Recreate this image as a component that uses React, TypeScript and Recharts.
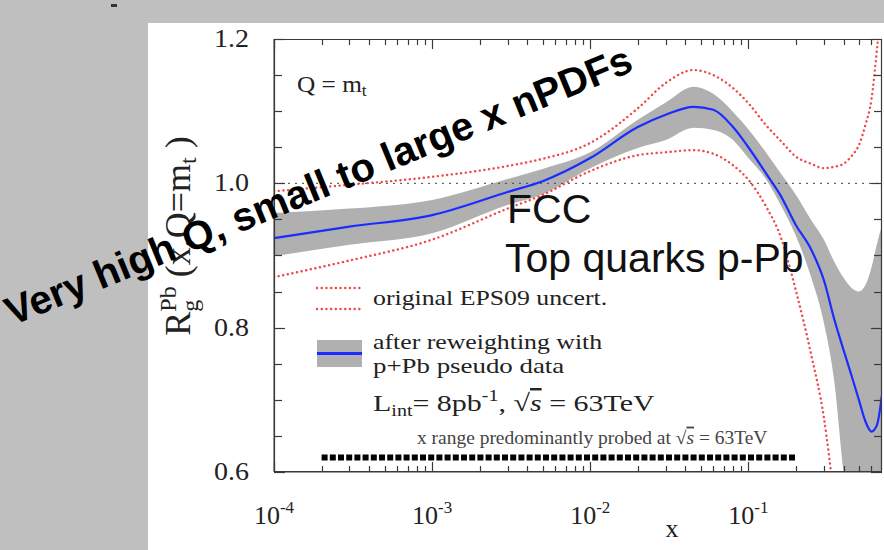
import { ComposedChart, Area, Line, XAxis, YAxis, ReferenceLine } from "recharts";

const xValues = [1e-4, 3e-4, 1e-3, 3e-3, 5e-3, 1e-2, 2e-2, 3e-2, 4.5e-2, 6e-2, 8e-2, 0.1, 0.13, 0.16, 0.2, 0.25, 0.3, 0.35, 0.4, 0.45, 0.5, 0.55, 0.6, 0.65, 0.7];

// after reweighting (blue central line + grey band)
const reweighted = [0.924, 0.94, 0.956, 0.988, 1.003, 1.035, 1.078, 1.095, 1.106, 1.102, 1.078, 1.05, 1.013, 0.983, 0.942, 0.908, 0.866, 0.811, 0.769, 0.733, 0.7, 0.67, 0.656, 0.665, 0.707];
const reweightedHigh = [0.959, 0.965, 0.977, 1.006, 1.02, 1.043, 1.088, 1.112, 1.134, 1.124, 1.099, 1.075, 1.042, 1.014, 0.984, 0.949, 0.922, 0.891, 0.869, 0.855, 0.85, 0.859, 0.883, 0.916, 0.942];
const reweightedLow = [0.899, 0.915, 0.931, 0.97, 0.985, 1.021, 1.049, 1.06, 1.077, 1.074, 1.06, 1.035, 1.005, 0.97, 0.927, 0.869, 0.807, 0.724, 0.599, 0.52, 0.46, 0.42, 0.4, 0.4, 0.4];

// original EPS09 uncertainty (red dotted)
const eps09High = [0.989, 0.998, 1.009, 1.024, 1.034, 1.056, 1.104, 1.139, 1.157, 1.15, 1.132, 1.111, 1.08, 1.059, 1.037, 1.027, 1.021, 1.023, 1.027, 1.038, 1.053, 1.081, 1.116, 1.185, 1.26];
const eps09Low = [0.87, 0.893, 0.922, 0.965, 0.984, 1.017, 1.039, 1.043, 1.046, 1.041, 1.025, 1.005, 0.967, 0.926, 0.851, 0.762, 0.676, 0.56, null, null, null, null, null, null, null];

// x range predominantly probed
const probeFrom = 2e-4;
const probeTo = 0.2;
const probeLevel = 0.62;

const X_MIN = 1e-4;
const X_MAX = 0.7;
const Y_MIN = 0.6;
const Y_MAX = 1.2;

const yTicks = [0.6, 0.65, 0.7, 0.75, 0.8, 0.85, 0.9, 0.95, 1.0, 1.05, 1.1, 1.15, 1.2];
const yMajor = [0.6, 0.8, 1.0, 1.2];
const xDecades = [1e-4, 1e-3, 1e-2, 1e-1];
const xSteps = [1, 2, 3, 4, 5, 6, 7, 8, 9];
const xTicks = xDecades.flatMap((d) => xSteps.map((s) => s * d)).filter((v) => v < 0.65);

const rows = xValues.map((x, i) => ({
    x,
    central: reweighted[i],
    band: [reweightedLow[i], reweightedHigh[i]],
    epsHigh: eps09High[i],
    epsLow: eps09Low[i]
}));

const serif = "'Liberation Serif', 'Times New Roman', serif";
const sans = "'Liberation Sans', Arial, sans-serif";

const boxColor = "#3a3a3a";
const red = "#f04848";
const blue = "#1a2cff";
const grey = "#b0b0b0";
const ink = "#222";

// plot box on the page (white panel at 148,23 + chart margins/axis sizes)
const BOX_L = 274;
const BOX_R = 882;
const BOX_T = 39;
const BOX_B = 472;

const isMajorX = (v: number) => Math.abs(Math.log10(v) - Math.round(Math.log10(v))) < 1e-6;
const pageX = (v: number) =>
    BOX_L + ((BOX_R - BOX_L) * (Math.log10(v) - Math.log10(X_MIN))) / (Math.log10(X_MAX) - Math.log10(X_MIN));
const pageY = (v: number) => BOX_B - ((BOX_B - BOX_T) * (v - Y_MIN)) / (Y_MAX - Y_MIN);

const XTick = (props: any) => {
    const { x, y, payload } = props;
    if (!isMajorX(payload.value)) return <g />;
    const exp = Math.round(Math.log10(payload.value));
    return (
        <text x={x} y={y + 38} textAnchor="middle" fontFamily={serif} fontSize={26} fill={ink}>
            10<tspan fontSize={17} dy={-11}>{exp}</tspan>
        </text>
    );
};

const YTick = (props: any) => {
    const { x, y, payload } = props;
    const v = payload.value;
    if (!yMajor.includes(v)) return <g />;
    return (
        <g transform={`translate(${x - 11},${y + 8}) scale(1.12,1)`}>
            <text x={0} y={0} textAnchor="end" fontFamily={serif} fontSize={25} fill={ink}>
                {v.toFixed(1)}
            </text>
        </g>
    );
};

const dotted = {
    stroke: red,
    strokeWidth: 2.4,
    strokeDasharray: "0.1 4.6",
    strokeLinecap: "round" as const
};

const Wide = ({ x, y, sx, children }: any) => (
    <g transform={`translate(${x},${y}) scale(${sx},1)`}>{children}</g>
);

const edge = { stroke: boxColor, strokeWidth: 1.2 };

const BoxAndTicks = () => (
    <g>
        <line x1={BOX_L + 0.5} x2={BOX_R - 0.5} y1={BOX_T + 0.5} y2={BOX_T + 0.5} {...edge} />
        <line x1={BOX_L + 0.5} x2={BOX_R - 0.5} y1={BOX_B - 0.5} y2={BOX_B - 0.5} {...edge} />
        <line x1={BOX_L + 0.5} x2={BOX_L + 0.5} y1={BOX_T + 0.5} y2={BOX_B - 0.5} {...edge} />
        <line x1={BOX_R - 0.5} x2={BOX_R - 0.5} y1={BOX_T + 0.5} y2={BOX_B - 0.5} {...edge} />
        {xTicks.map((v, i) => {
            const px = Math.round(pageX(v)) + 0.5;
            const len = isMajorX(v) ? 10 : 6;
            return (
                <g key={`xt${i}`}>
                    <line x1={px} x2={px} y1={BOX_B} y2={BOX_B - len} {...edge} />
                    <line x1={px} x2={px} y1={BOX_T} y2={BOX_T + len} {...edge} />
                </g>
            );
        })}
        {yTicks.map((v, i) => {
            const py = Math.round(pageY(v)) + 0.5;
            const len = yMajor.includes(v) ? 11 : 8;
            return (
                <g key={`yt${i}`}>
                    <line x1={BOX_L} x2={BOX_L + len} y1={py} y2={py} {...edge} />
                    <line x1={BOX_R} x2={BOX_R - len} y1={py} y2={py} {...edge} />
                </g>
            );
        })}
    </g>
);

const App = () => {
    return (
        <div style={{ position: "absolute", left: 0, top: 0, width: 884, height: 550, background: "#bfbfbf", overflow: "hidden" }}>
            <div style={{ position: "absolute", left: 111, top: 4, width: 6, height: 3, background: "#333" }} />

            <div style={{ position: "absolute", left: 148, top: 23, width: 736, height: 527, background: "#fff" }}>
                <ComposedChart width={736} height={527} data={rows} margin={{ top: 16, right: 2, bottom: 0, left: 0 }}>
                    <XAxis
                        dataKey="x"
                        type="number"
                        scale="log"
                        domain={[X_MIN, X_MAX]}
                        allowDataOverflow
                        ticks={xTicks}
                        interval={0}
                        tick={XTick}
                        tickLine={false}
                        tickMargin={8}
                        height={78}
                        stroke={boxColor}
                    />
                    <YAxis
                        type="number"
                        domain={[Y_MIN, Y_MAX]}
                        allowDataOverflow
                        ticks={yTicks}
                        interval={0}
                        tick={YTick}
                        tickLine={false}
                        tickMargin={8}
                        width={126}
                        stroke={boxColor}
                    />

                    <Area dataKey="band" type="monotone" stroke="none" fill={grey} fillOpacity={1} isAnimationActive={false} />

                    <ReferenceLine y={1} stroke="#444" strokeDasharray="2 5" />

                    <ReferenceLine
                        ifOverflow="visible"
                        segment={[{ x: probeFrom, y: probeLevel }, { x: probeTo, y: probeLevel }]}
                        stroke="#000"
                        strokeWidth={6}
                        strokeDasharray="6 2.2"
                    />

                    <Line dataKey="epsHigh" type="monotone" {...dotted} dot={false} isAnimationActive={false} />
                    <Line dataKey="epsLow" type="monotone" {...dotted} dot={false} isAnimationActive={false} />
                    <Line dataKey="central" type="monotone" stroke={blue} strokeWidth={2.2} dot={false} isAnimationActive={false} />
                </ComposedChart>
            </div>

            <svg width={884} height={550} style={{ position: "absolute", left: 0, top: 0, pointerEvents: "none" }}>
                <BoxAndTicks />

                <text transform="translate(190,236) rotate(-90)" textAnchor="middle" fontFamily={serif} fontSize={36} fill={ink}>
                    R<tspan fontSize={24} dy={8}>g</tspan>
                    <tspan fontSize={24} dx={-12} dy={-22}>Pb</tspan>
                    <tspan dy={14}> (x,Q=m</tspan>
                    <tspan fontSize={24} dy={6}>t</tspan>
                    <tspan dy={-6}> )</tspan>
                </text>

                <Wide x={297} y={92} sx={1.1}>
                    <text fontFamily={serif} fontSize={23} fill={ink}>
                        Q = m<tspan fontSize={16} dy={4}>t</tspan>
                    </text>
                </Wide>

                <line x1={317} x2={362} y1={288} y2={288} {...dotted} />
                <line x1={317} x2={362} y1={309} y2={309} {...dotted} />
                <Wide x={373} y={305} sx={1.2}>
                    <text fontFamily={serif} fontSize={21.5} fill={ink}>original EPS09 uncert.</text>
                </Wide>

                <rect x={317} y={340} width={45} height={27} fill={grey} />
                <line x1={317} x2={362} y1={353.5} y2={353.5} stroke={blue} strokeWidth={3} />
                <Wide x={373} y={349} sx={1.2}>
                    <text fontFamily={serif} fontSize={21.5} fill={ink}>after reweighting with</text>
                </Wide>
                <Wide x={373} y={373} sx={1.25}>
                    <text fontFamily={serif} fontSize={21.5} fill={ink}>p+Pb pseudo data</text>
                </Wide>

                <Wide x={373} y={411} sx={1.25}>
                    <text fontFamily={serif} fontSize={24} fill={ink}>
                        L<tspan fontSize={16} dy={5}>int</tspan>
                        <tspan dy={-5}>= 8pb</tspan>
                        <tspan fontSize={16} dy={-10}>-1</tspan>
                        <tspan dy={10}>, √</tspan>
                        <tspan fontStyle="italic" style={{ textDecoration: "overline" }}>s</tspan>
                        <tspan> = 63TeV</tspan>
                    </text>
                </Wide>

                <Wide x={417} y={444} sx={1.07}>
                    <text fontFamily={serif} fontSize={18.2} fill="#444">
                        x range predominantly probed at √<tspan fontStyle="italic" style={{ textDecoration: "overline" }}>s</tspan> = 63TeV
                    </text>
                </Wide>

                <text x={672} y={537} textAnchor="middle" fontFamily={serif} fontSize={26} fill={ink}>x</text>

                <text x={507} y={223} fontFamily={sans} fontSize={41} fill="#111">FCC</text>
                <text x={505} y={272} fontFamily={sans} fontSize={41} fill="#111">Top quarks p-Pb</text>

                <text transform="translate(12,326) rotate(-22.3)" fontFamily={sans} fontWeight={700} fontSize={40} fill="#000">
                    Very high Q, small to large x nPDFs
                </text>
            </svg>
        </div>
    );
};

export default App;
